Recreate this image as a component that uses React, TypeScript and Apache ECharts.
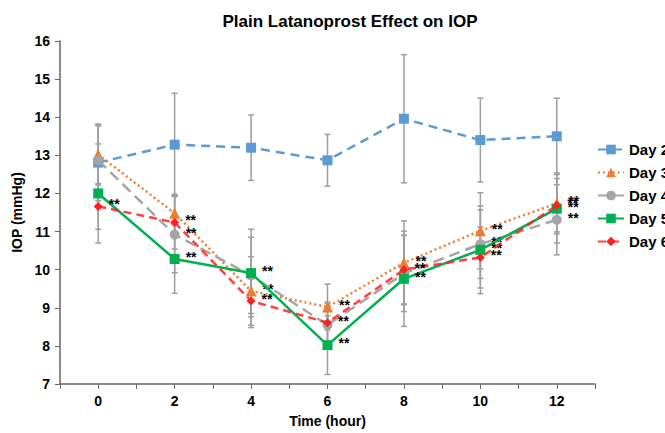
import React, { useEffect, useRef } from "react";
import * as echarts from "echarts";

const times = [0, 2, 4, 6, 8, 10, 12];
const dayNames = ["Day 2", "Day 3", "Day 4", "Day 5", "Day 6"];
const day2 = [12.81, 13.28, 13.2, 12.87, 13.96, 13.4, 13.5];
const day3 = [13.02, 11.48, 9.44, 9.02, 10.18, 11.02, 11.74];
const day4 = [12.87, 10.92, 9.85, 8.55, 9.9, 10.67, 11.31];
const day5 = [12.0, 10.28, 9.91, 8.02, 9.76, 10.52, 11.6];
const day6 = [11.66, 11.24, 9.18, 8.61, 10.0, 10.32, 11.69];
const day2Err = [1.0, 1.35, 0.86, 0.68, 1.68, 1.1, 1.0];
const day3Err = [0.8, 0.5, 0.9, 0.6, 1.1, 1.0, 0.8];
const day4Err = [0.9, 1.0, 1.0, 0.6, 1.0, 0.9, 0.92];
const day5Err = [1.3, 0.9, 1.15, 0.77, 1.25, 1.15, 0.9];
const day6Err = [0.6, 0.7, 0.7, 0.5, 0.9, 0.8, 0.7];
const day2Sig = [0, 0, 0, 0, 0, 0, 0];
const day3Sig = [0, 0, 1, 1, 1, 1, 1];
const day4Sig = [0, 1, 0, 0, 0, 1, 1];
const day5Sig = [0, 1, 1, 1, 1, 1, 1];
const day6Sig = [1, 1, 1, 1, 1, 1, 1];
const sigText = "**";

const FONT = "Liberation Sans, Arial, sans-serif";

export default function App() {
  const ref = useRef<HTMLDivElement>(null);
  useEffect(() => {
    if (!ref.current) return;
    document.body.style.margin = "0";
    document.body.style.overflow = "hidden";
    document.documentElement.style.overflow = "hidden";
    const chart = echarts.init(ref.current, null, { renderer: "svg" });
    const vals = [day2, day3, day4, day5, day6];
    const errs = [day2Err, day3Err, day4Err, day5Err, day6Err];
    const sigs = [day2Sig, day3Sig, day4Sig, day5Sig, day6Sig];
    const styles = [
      { color: "#5B9BD5", type: [9, 6], symbol: "rect", size: 10 },
      { color: "#ED7D31", type: [2, 3], symbol: "triangle", size: 11 },
      { color: "#A5A5A5", type: [11, 6], symbol: "circle", size: 10 },
      { color: "#00B050", type: "solid", symbol: "rect", size: 10 },
      { color: "#FF2020", type: [8, 5], symbol: "diamond", size: 9 },
    ];

    const errSeries = vals.map((v, i) => ({
      type: "custom",
      name: dayNames[i] + " err",
      z: 1,
      silent: true,
      data: times.map((t, j) => [t, v[j], errs[i][j]]),
      renderItem: (params: any, api: any) => {
        const x = api.value(0);
        const y = api.value(1);
        const e = api.value(2);
        const top = api.coord([x, y + e]);
        const bot = api.coord([x, y - e]);
        const st = { stroke: "#9E9E9E", lineWidth: 1.5 };
        return {
          type: "group",
          children: [
            { type: "line", shape: { x1: top[0], y1: top[1], x2: bot[0], y2: bot[1] }, style: st },
            { type: "line", shape: { x1: top[0] - 3, y1: top[1], x2: top[0] + 3, y2: top[1] }, style: st },
            { type: "line", shape: { x1: bot[0] - 3, y1: bot[1], x2: bot[0] + 3, y2: bot[1] }, style: st },
          ],
        };
      },
    }));

    const lineSeries = vals.map((v, i) => ({
      type: "line",
      name: dayNames[i],
      z: 3 + i,
      symbol: styles[i].symbol,
      symbolSize: styles[i].size,
      itemStyle: { color: styles[i].color },
      lineStyle: { color: styles[i].color, width: 2.5, type: styles[i].type, opacity: i === 4 ? 0.85 : 1 },
      label: {
        show: false,
        position: "right",
        distance: 6,
        offset: [0, -2],
        formatter: sigText,
        color: "#000",
        fontSize: 14,
        fontWeight: "bold",
        fontFamily: FONT,
      },
      data: times.map((t, j) => ({
        value: [t, v[j]],
        label: { show: sigs[i][j] === 1 },
      })),
    }));

    chart.setOption({
      animation: false,
      backgroundColor: "#fff",
      title: {
        text: "Plain Latanoprost Effect on IOP",
        left: 345,
        textAlign: "center",
        top: 8,
        textStyle: { fontFamily: FONT, fontSize: 17, fontWeight: "bold", color: "#000" },
      },
      legend: {
        orient: "vertical",
        left: 592,
        top: 137,
        itemWidth: 26,
        itemHeight: 12,
        itemGap: 8,
        data: dayNames,
        textStyle: { fontFamily: FONT, fontSize: 15, fontWeight: "bold", color: "#000" },
      },
      grid: { left: 60, right: 105, top: 41, bottom: 47 },
      xAxis: {
        type: "value",
        min: -1,
        max: 13,
        interval: 1,
        name: "Time (hour)",
        nameLocation: "middle",
        nameGap: 30,
        nameTextStyle: { fontFamily: FONT, fontSize: 14, fontWeight: "bold", color: "#000" },
        splitLine: { show: false },
        axisLine: { onZero: false, lineStyle: { color: "#666", width: 1.5 } },
        axisTick: { show: true, length: 5, lineStyle: { color: "#666" } },
        axisLabel: {
          fontFamily: FONT,
          fontSize: 14,
          fontWeight: "bold",
          color: "#000",
          margin: 10,
          formatter: (v: number) => (v >= 0 && v <= 12 && v % 2 === 0 ? String(v) : ""),
        },
      },
      yAxis: {
        type: "value",
        min: 7,
        max: 16,
        interval: 1,
        name: "IOP (mmHg)",
        nameLocation: "middle",
        nameGap: 34,
        nameTextStyle: { fontFamily: FONT, fontSize: 14, fontWeight: "bold", color: "#000" },
        splitLine: { show: false },
        axisLine: { show: true, onZero: false, lineStyle: { color: "#666", width: 1.5 } },
        axisTick: { show: true, length: 5, lineStyle: { color: "#666" } },
        axisLabel: { fontFamily: FONT, fontSize: 14, fontWeight: "bold", color: "#000", margin: 10 },
      },
      series: [...errSeries, ...lineSeries],
    });
    return () => chart.dispose();
  }, []);
  return <div ref={ref} style={{ width: 700, height: 433 }} />;
}
